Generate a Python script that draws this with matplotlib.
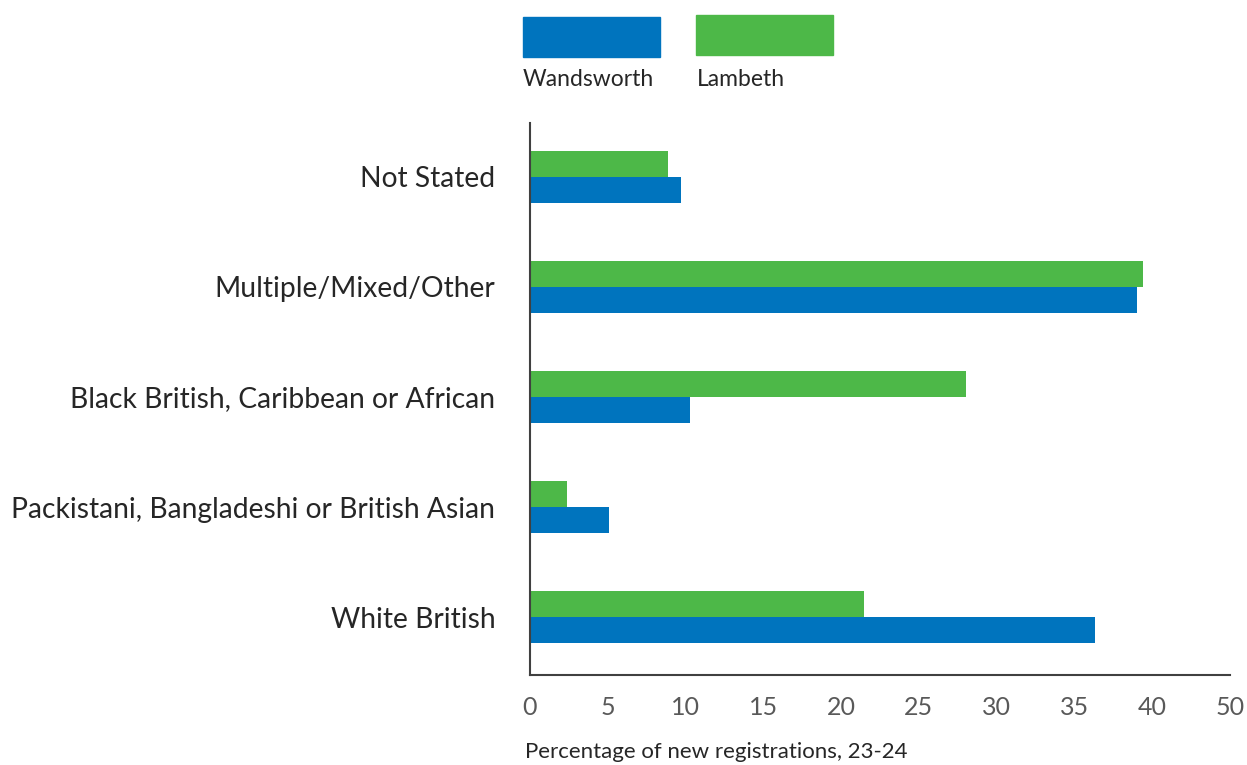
import matplotlib
matplotlib.use("Agg")
import matplotlib.pyplot as plt
from matplotlib.patches import Rectangle
import numpy as np

# Data
categories = ["White British", "Packistani, Bangladeshi or British Asian",
              "Black British, Caribbean or African", "Multiple/Mixed/Other",
              "Not Stated"]
wandsworth = [36.3, 5.1, 10.3, 39.0, 9.7]
lambeth = [21.5, 2.4, 28.0, 39.4, 8.9]
tick_values = [0, 5, 10, 15, 20, 25, 30, 35, 40, 45]
tick_labels = ["0", "5", "10", "15", "20", "25", "30", "35", "40", "50"]

blue = "#0074BE"
green = "#4DB848"

plt.rcParams['font.family'] = ['Lato', 'DejaVu Sans']

fig = plt.figure(figsize=(12.47, 7.65), dpi=100)
ax = fig.add_axes([0.425, 0.1176, 0.5614, 0.7216])

y = np.arange(len(categories))
h = 0.236
ax.barh(y - h / 2, wandsworth, height=h, color=blue)
ax.barh(y + h / 2, lambeth, height=h, color=green)

ax.set_xlim(0, 45)
ax.set_ylim(-0.527, 4.49)
ax.set_yticks(y)
ax.set_yticklabels(categories, fontsize=20.3, color="#262626")
ax.set_xticks(tick_values)
ax.set_xticklabels(tick_labels, fontsize=18, color="#595959")
ax.tick_params(axis="both", length=0)
ax.tick_params(axis="x", pad=15)
ax.tick_params(axis="y", pad=25)

for side in ["top", "right"]:
    ax.spines[side].set_visible(False)
for side in ["left", "bottom"]:
    ax.spines[side].set_color("#404040")
    ax.spines[side].set_linewidth(1.5)

W, H = 1247.0, 765.0
fig.text(525 / W, 1 - 752 / H, "Percentage of new registrations, 23-24",
         fontsize=16, color="#262626", va="center", ha="left")

# legend drawn as boxes with labels beneath
fig.add_artist(Rectangle((523 / W, 1 - 57 / H), 137 / W, 40 / H,
                         transform=fig.transFigure, color=blue))
fig.add_artist(Rectangle((696 / W, 1 - 55 / H), 137 / W, 40 / H,
                         transform=fig.transFigure, color=green))
fig.text(523 / W, 1 - 79 / H, "Wandsworth", fontsize=16.5, color="#262626",
         va="center", ha="left")
fig.text(697 / W, 1 - 79 / H, "Lambeth", fontsize=16.5, color="#262626",
         va="center", ha="left")

fig.savefig("out.png", dpi=100, facecolor="white")
